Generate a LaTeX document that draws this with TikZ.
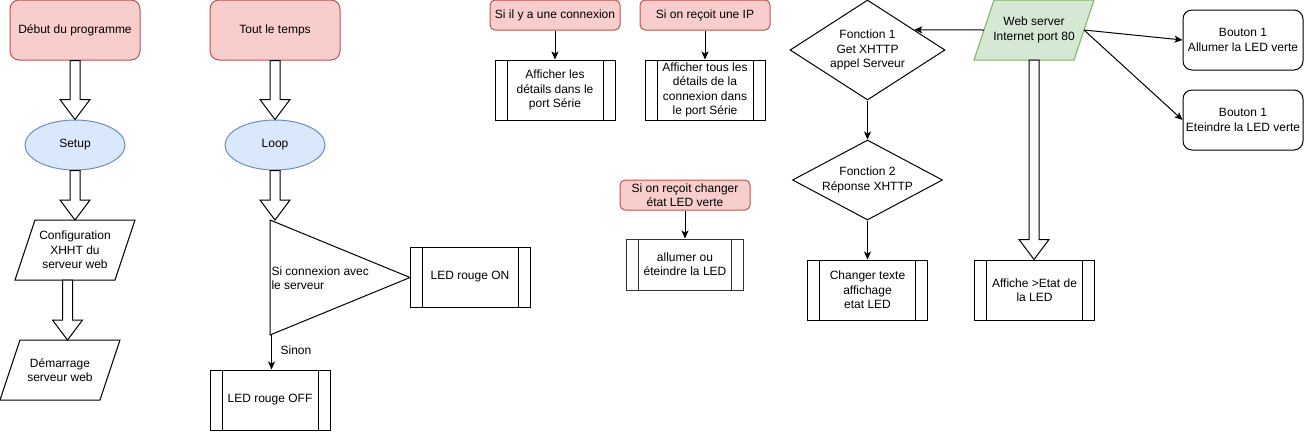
\documentclass[tikz,border=0pt]{standalone}
\usepackage{fontspec}
\setmainfont{Liberation Sans}
\usetikzlibrary{shapes.geometric,arrows.meta,calc,backgrounds}
\definecolor{pinkF}{HTML}{F8CECC}
\definecolor{pinkD}{HTML}{B85450}
\definecolor{blueF}{HTML}{DAE8FC}
\definecolor{blueD}{HTML}{6C8EBF}
\definecolor{greenF}{HTML}{D5E8D4}
\definecolor{greenD}{HTML}{82B366}
\newcommand\blkarrow[2]{%
  \draw[blk] let \p1=(#1), \p2=(#2) in
    (\x1-5pt,\y1) -- (\x1-5pt,\y2+20pt) -- (\x1-15pt,\y2+20pt) -- (\x1,\y2)
    -- (\x1+15pt,\y2+20pt) -- (\x1+5pt,\y2+20pt) -- (\x1+5pt,\y1) -- cycle;}
\begin{document}
\begin{tikzpicture}[x=1pt,y=-1pt,
  font=\fontsize{12}{14.3}\selectfont,
  line width=1pt,
  startbox/.style={draw=pinkD, fill=pinkF, rounded corners=9pt, minimum width=130pt, minimum height=60pt, align=center, inner sep=1pt},
  smallstart/.style={startbox, rounded corners=5pt, minimum height=30pt},
  ell/.style={ellipse, draw=blueD, fill=blueF, minimum width=100pt, minimum height=50pt, inner sep=0pt},
  paratext/.style={minimum width=120pt, minimum height=60pt, inner sep=0pt, outer sep=0pt, align=center},
  para/.style={draw, fill=white, line width=1pt, line join=miter},
  procbox/.style={draw, minimum width=120pt, minimum height=60pt, inner sep=1pt, align=center,
    path picture={\draw[line width=1pt]
      ([xshift=12pt]path picture bounding box.north west) -- ([xshift=12pt]path picture bounding box.south west)
      ([xshift=-12pt]path picture bounding box.north east) -- ([xshift=-12pt]path picture bounding box.south east);}},
  btn/.style={draw, rounded corners=9pt, minimum width=120pt, minimum height=60pt, align=center, inner sep=1pt},
  dia/.style={diamond, draw, inner sep=0pt, align=center},
  blk/.style={draw, fill=white, line join=miter},
  arr/.style={-{Stealth[length=8pt,width=7pt,inset=2pt]}}
]
\useasboundingbox (0,0) rectangle (1308,432);

% left column
\node[startbox] (debut) at (75,30) {Début du programme};
\node[ell] (setup) at (75,145) {Setup};
\node[paratext] (cfg) at (75,250) {Configuration\\XHHT du\\serveur web};
\node[paratext] (dem) at (60,370) {Démarrage\\serveur web};

% second column
\node[startbox] (tout) at (275,30) {Tout le temps};
\node[ell] (loop) at (275,145) {Loop};
\coordinate (t1) at (270,220);
\coordinate (t2) at (410,277.5);
\coordinate (t3) at (270,335);
\draw[line join=miter] (t1) -- (t2) -- (t3) -- cycle;
\node[anchor=west, align=left, inner sep=1pt] (tri) at (270,278) {Si connexion avec\\le serveur};
\node[procbox] (ledon) at (470,277) {LED rouge ON};
\node[procbox] (ledoff) at (270,400) {LED rouge OFF};
\draw[arr] ([xshift=1.5pt]t3) -- ([xshift=1.5pt]ledoff.north);
\node (sinon) at (296,350) {Sinon};

% middle
\node[smallstart] (c1) at (555,15) {Si il y a une connexion};
\node[procbox] (a1) at (555,90) {Afficher les\\détails dans le\\port Série};
\node[smallstart] (c2) at (705,15) {Si on reçoit une IP};
\node[procbox] (a2) at (705,90) {Afficher tous les\\détails de la\\connexion dans\\le port Série};
\node[smallstart] (c3) at (685,195) {Si on reçoit changer\\état LED verte};
\node[procbox, minimum width=117pt, minimum height=51pt, draw=black!80] (a3) at (685,264.5) {allumer ou\\éteindre la LED};
\draw[arr] (c1) -- (a1);
\draw[arr] (c2) -- (a2);
\draw[arr] (c3) -- (a3);

% right part
\node[dia, minimum width=155pt, minimum height=100pt, aspect=1.55] (f1) at (867.5,50) {Fonction 1\\Get XHTTP\\appel Serveur};
\node[dia, minimum width=150pt, minimum height=80pt, aspect=1.875] (f2) at (867.5,180) {Fonction 2\\Réponse XHTTP};
\node[procbox] (chg) at (867.5,290) {Changer texte\\affichage\\etat LED};
\node[paratext] (web) at (1034,30) {Web server\\Internet port 80};
\node[procbox] (aff) at (1034.5,290) {Affiche >Etat de\\la LED};
\node[btn] (b1) at (1243,40) {Bouton 1\\Allumer la LED verte};
\node[btn] (b2) at (1243,120) {Bouton 1\\Eteindre la LED verte};
\draw[arr] (f1) -- (f2);
\draw[arr] (f2) -- (chg);
\draw[arr] ([xshift=10pt]web.west) -- ($(f1.north)!0.6!(f1.east)$);
\draw[arr] ([xshift=-10pt]web.east) -- (b1.west);
\draw[arr] ([xshift=-10pt]web.east) -- (b2.west);

% parallelogram outlines behind their texts
\begin{scope}[on background layer]
\draw[para] ([xshift=20pt]cfg.north west) -- (cfg.north east) -- ([xshift=-20pt]cfg.south east) -- (cfg.south west) -- cycle;
\draw[para] ([xshift=20pt]dem.north west) -- (dem.north east) -- ([xshift=-20pt]dem.south east) -- (dem.south west) -- cycle;
\draw[para, draw=greenD, fill=greenF] ([xshift=20pt]web.north west) -- (web.north east) -- ([xshift=-20pt]web.south east) -- (web.south west) -- cycle;
\end{scope}

% block arrows
\blkarrow{debut.south}{setup.north}
\blkarrow{setup.south}{cfg.north}
\coordinate (cd) at ($(cfg.south)!0.5!(dem.north)$);
\blkarrow{cd |- cfg.south}{cd |- dem.north}
\blkarrow{tout.south}{loop.north}
\blkarrow{loop.south}{loop.south |- t1}
\blkarrow{web.south}{aff.north}
\end{tikzpicture}
\end{document}
